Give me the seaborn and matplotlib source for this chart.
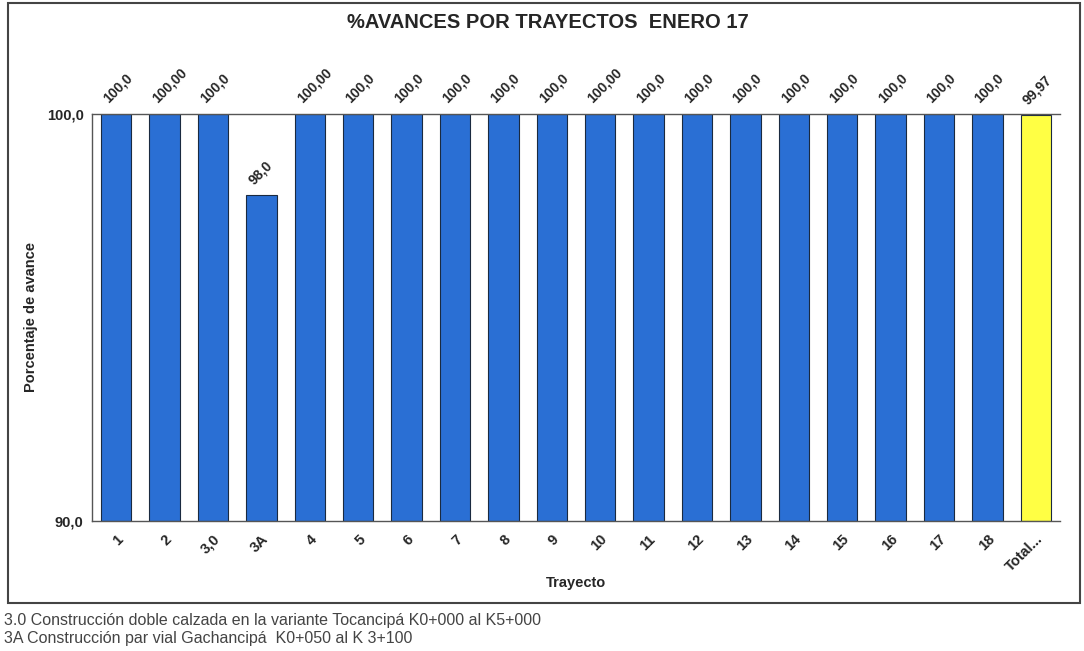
import matplotlib
matplotlib.use("Agg")
import matplotlib.pyplot as plt
import seaborn as sns
import pandas as pd
from matplotlib.patches import Rectangle
from matplotlib import font_manager

categories = ["1", "2", "3,0", "3A", "4", "5", "6", "7", "8", "9", "10", "11", "12",
              "13", "14", "15", "16", "17", "18", "Total..."]
values = [100.0, 100.0, 100.0, 98.0, 100.0, 100.0, 100.0, 100.0, 100.0, 100.0, 100.0,
          100.0, 100.0, 100.0, 100.0, 100.0, 100.0, 100.0, 100.0, 99.97]
value_labels = ["100,0", "100,00", "100,0", "98,0", "100,00", "100,0", "100,0", "100,0",
                "100,0", "100,0", "100,00", "100,0", "100,0", "100,0", "100,0", "100,0",
                "100,0", "100,0", "100,0", "99,97"]
title = "%AVANCES POR TRAYECTOS  ENERO 17"
footnotes = ["3.0 Construcción doble calzada en la variante Tocancipá K0+000 al K5+000",
             "3A Construcción par vial Gachancipá  K0+050 al K 3+100"]

sns.set_theme(style="white")
plt.rcParams['font.family'] = ['Liberation Sans', 'DejaVu Sans']

df = pd.DataFrame({"Trayecto": categories, "Avance": values})
colors = ["#2a6fd4"] * (len(categories) - 1) + ["#ffff44"]

fig = plt.figure(figsize=(10.84, 6.51), dpi=100)
ax = fig.add_axes([92 / 1084, 1 - 521 / 651, (1060 - 92) / 1084, (521 - 114) / 651])

sns.barplot(data=df, x="Trayecto", y="Avance", hue="Trayecto", palette=colors,
            saturation=1, legend=False, width=0.63, edgecolor="#1a2a40",
            linewidth=0.8, ax=ax)
for p in ax.patches:
    h = p.get_height()
    p.set_y(90)
    p.set_height(h - 90)

ax.set_ylim(90, 100)
ax.set_xlim(-0.5, len(categories) - 0.5)
ax.set_yticks([90, 100])
ax.set_yticklabels(["90,0", "100,0"], fontsize=10.5, fontweight="bold")
ax.set_xticks(range(len(categories)))
ax.set_xticklabels(categories, rotation=45, ha="right", rotation_mode="anchor",
                   fontsize=10.5, fontweight="bold")
ax.tick_params(axis="x", pad=8, length=0)
ax.tick_params(axis="y", length=0, pad=6)
ax.set_xlabel("Trayecto", fontsize=10.5, fontweight="bold", labelpad=1)
ax.set_ylabel("Porcentaje de avance", fontsize=10.5, fontweight="bold", labelpad=6)

ax.spines["right"].set_visible(False)
for s in ["left", "bottom", "top"]:
    ax.spines[s].set_color("#555555")
    ax.spines[s].set_linewidth(1.0)

for i, (v, lab) in enumerate(zip(values, value_labels)):
    ax.annotate(lab, xy=(i, v), xytext=(-4, 6), textcoords="offset points",
                rotation=45, ha="left", va="bottom", rotation_mode="anchor",
                fontsize=10, fontweight="bold")

fig.text(548 / 1084, 1 - 22 / 651, title, ha="center", va="center",
         fontsize=14.5, fontweight="bold")

fig.patches.append(Rectangle((8 / 1084, 1 - 603 / 651), (1080 - 8) / 1084, (603 - 3) / 651,
                             transform=fig.transFigure, fill=False,
                             edgecolor="#444444", linewidth=1.5))

fig.text(4 / 1084, 1 - 620 / 651, footnotes[0], ha="left", va="center", fontsize=11.5,
         color="#444444")
fig.text(4 / 1084, 1 - 638 / 651, footnotes[1], ha="left", va="center", fontsize=11.5,
         color="#444444")

fig.savefig("out.png", dpi=100)
